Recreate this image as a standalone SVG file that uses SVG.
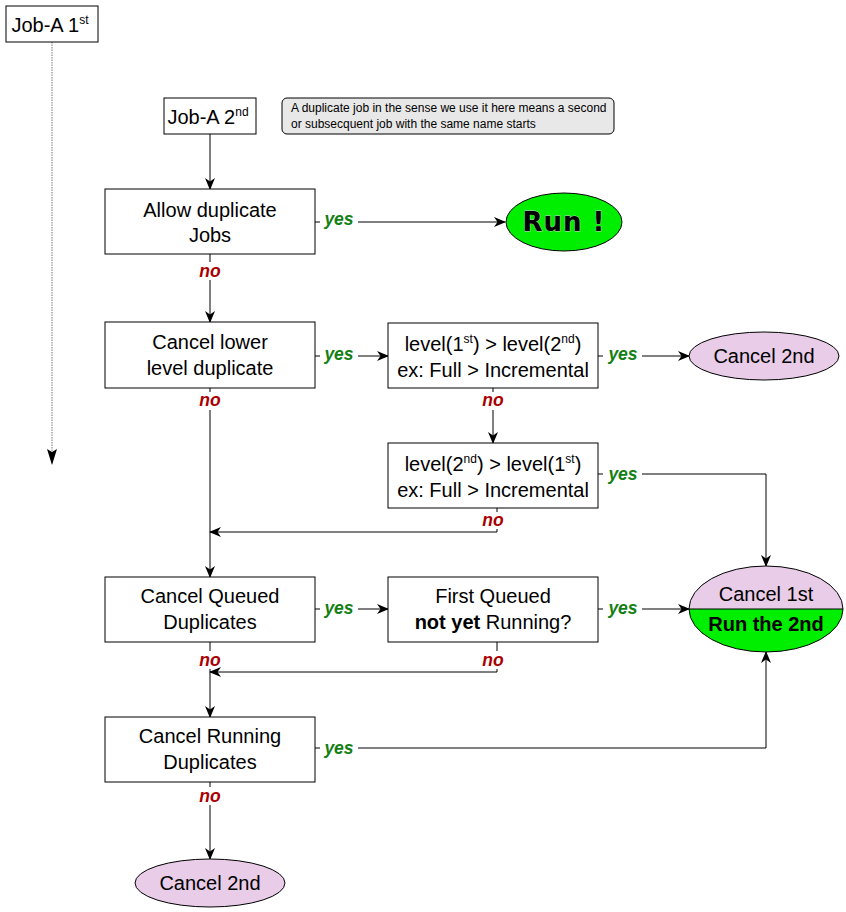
<svg xmlns="http://www.w3.org/2000/svg" width="846" height="912" viewBox="0 0 846 912">
<defs>
<marker id="ah" markerWidth="12" markerHeight="10" refX="11" refY="5" orient="auto" markerUnits="userSpaceOnUse">
<path d="M0,0 L12,5 L0,10 L3.5,5 z" fill="#000"/>
</marker>
<marker id="ah2" markerWidth="10" markerHeight="16" refX="5" refY="15" orient="0" markerUnits="userSpaceOnUse">
<path d="M0,0 L5,3 L10,0 L5,16 z" fill="#000"/>
</marker>
<style>
.box{fill:#fff;stroke:#000;stroke-width:1}
.t{font-family:"Liberation Sans",Arial,sans-serif;font-size:20px;fill:#000;text-anchor:middle}
.ln{fill:none;stroke:#000;stroke-width:1}
.yes{font-family:"Liberation Sans",Arial,sans-serif;font-size:17.5px;font-weight:bold;font-style:italic;fill:#138013;text-anchor:middle}
.no{font-family:"Liberation Sans",Arial,sans-serif;font-size:17.5px;font-weight:bold;font-style:italic;fill:#aa0000;text-anchor:middle}
.pink{fill:#e8cce8;stroke:#000;stroke-width:1}
.sup{font-size:12px}
</style>
</defs>
<rect width="846" height="912" fill="#fff"/>

<g id="connectors">
<path d="M52,42 V464" fill="none" stroke="#777" stroke-width="1" stroke-dasharray="1.5,1" marker-end="url(#ah2)"/>
<path class="ln" d="M210,134 V189" marker-end="url(#ah)"/>
<path class="ln" d="M315,222 H320 M358,222 H505" marker-end="url(#ah)"/>
<path class="ln" d="M210,254 V262 M210,280 V322" marker-end="url(#ah)"/>
<path class="ln" d="M315,356 H320 M358,356 H388" marker-end="url(#ah)"/>
<path class="ln" d="M598,356 H603 M642,356 H689" marker-end="url(#ah)"/>
<path class="ln" d="M493,388 V392 M493,410 V443" marker-end="url(#ah)"/>
<path class="ln" d="M598,474 H603 M642,474 H766 V566" marker-end="url(#ah)"/>
<path class="ln" d="M497,508 V512 M497,529 V532 H210" marker-end="url(#ah)"/>
<path class="ln" d="M210,388 V392 M210,410 V577" marker-end="url(#ah)"/>
<path class="ln" d="M315,609 H320 M358,609 H388" marker-end="url(#ah)"/>
<path class="ln" d="M598,609 H603 M642,609 H689" marker-end="url(#ah)"/>
<path class="ln" d="M497,642 V651 M497,669 V672 H210" marker-end="url(#ah)"/>
<path class="ln" d="M210,642 V651 M210,669 V717" marker-end="url(#ah)"/>
<path class="ln" d="M315,748 H320 M358,748 H766 V652" marker-end="url(#ah)"/>
<path class="ln" d="M210,782 V787 M210,805 V859" marker-end="url(#ah)"/>
<text class="yes" x="339" y="225">yes</text>
<text class="no" x="210" y="277">no</text>
<text class="yes" x="339" y="360">yes</text>
<text class="yes" x="623" y="360">yes</text>
<text class="no" x="493" y="406">no</text>
<text class="no" x="210" y="406">no</text>
<text class="yes" x="623" y="480">yes</text>
<text class="no" x="493" y="526">no</text>
<text class="yes" x="339" y="614">yes</text>
<text class="yes" x="623" y="614">yes</text>
<text class="no" x="210" y="666">no</text>
<text class="no" x="493" y="666">no</text>
<text class="yes" x="339" y="754">yes</text>
<text class="no" x="210" y="802">no</text>
</g>

<g id="jobA1">
<rect class="box" x="6" y="6" width="92" height="36"/>
<text class="t" x="50" y="32">Job-A 1<tspan class="sup" dy="-8">st</tspan></text>
</g>

<g id="jobA2">
<rect class="box" x="164" y="98" width="92" height="36"/>
<text class="t" x="208" y="124">Job-A 2<tspan class="sup" dy="-8">nd</tspan></text>
</g>

<g id="note">
<rect x="282" y="98" width="332" height="36" rx="5" ry="5" fill="#e8e8e8" stroke="#000" stroke-width="1"/>
<text font-family="Liberation Sans,Arial,sans-serif" font-size="12" x="291" y="112">A duplicate job in the sense we use it here means a second</text>
<text font-family="Liberation Sans,Arial,sans-serif" font-size="12" x="291" y="128">or subsecquent job with the same name starts</text>
</g>

<g id="allowDup">
<rect class="box" x="105" y="189" width="210" height="65"/>
<text class="t" x="210" y="217">Allow duplicate</text>
<text class="t" x="210" y="242">Jobs</text>
</g>

<g id="run">
<ellipse cx="564" cy="222" rx="58" ry="29" fill="#00ee00" stroke="#000" stroke-width="1"/>
<text x="564" y="231" font-family="DejaVu Sans,sans-serif" font-size="26" font-weight="bold" text-anchor="middle" fill="#000" stroke="#ccc" stroke-width="0.8" paint-order="stroke" letter-spacing="1">Run !</text>
</g>

<g id="cancelLower">
<rect class="box" x="105" y="322" width="210" height="66"/>
<text class="t" x="210" y="349">Cancel lower</text>
<text class="t" x="210" y="375">level duplicate</text>
</g>

<g id="level1">
<rect class="box" x="388" y="323" width="210" height="65"/>
<text class="t" x="493" y="351">level(1<tspan class="sup" dy="-8">st</tspan><tspan dy="8">) &gt; level(2</tspan><tspan class="sup" dy="-8">nd</tspan><tspan dy="8">)</tspan></text>
<text class="t" x="493" y="377">ex: Full &gt; Incremental</text>
</g>

<g id="cancel2ndA">
<ellipse class="pink" cx="764" cy="356" rx="75" ry="24"/>
<text class="t" x="764" y="363">Cancel 2nd</text>
</g>

<g id="level2">
<rect class="box" x="388" y="443" width="210" height="65"/>
<text class="t" x="493" y="471">level(2<tspan class="sup" dy="-8">nd</tspan><tspan dy="8">) &gt; level(1</tspan><tspan class="sup" dy="-8">st</tspan><tspan dy="8">)</tspan></text>
<text class="t" x="493" y="497">ex: Full &gt; Incremental</text>
</g>

<g id="cancelQueued">
<rect class="box" x="105" y="577" width="210" height="65"/>
<text class="t" x="210" y="603">Cancel Queued</text>
<text class="t" x="210" y="629">Duplicates</text>
</g>

<g id="firstQueued">
<rect class="box" x="388" y="577" width="210" height="65"/>
<text class="t" x="493" y="603">First Queued</text>
<text class="t" x="493" y="629"><tspan font-weight="bold">not yet</tspan> Running?</text>
</g>

<g id="cancel1st">
<path d="M689,609 A77,43 0 0 1 843,609 Z" fill="#e8cce8"/>
<path d="M689,609 A77,43 0 0 0 843,609 Z" fill="#00ee00"/>
<ellipse cx="766" cy="609" rx="77" ry="43" fill="none" stroke="#000" stroke-width="1"/>
<line x1="689" y1="609" x2="843" y2="609" stroke="#000" stroke-width="1.2"/>
<text class="t" x="766" y="601">Cancel 1st</text>
<text class="t" x="766" y="631" font-weight="bold" font-size="19">Run the 2nd</text>
</g>

<g id="cancelRunning">
<rect class="box" x="105" y="717" width="210" height="65"/>
<text class="t" x="210" y="743">Cancel Running</text>
<text class="t" x="210" y="769">Duplicates</text>
</g>

<g id="cancel2ndB">
<ellipse class="pink" cx="210" cy="883" rx="75" ry="24"/>
<text class="t" x="210" y="890">Cancel 2nd</text>
</g>
</svg>
